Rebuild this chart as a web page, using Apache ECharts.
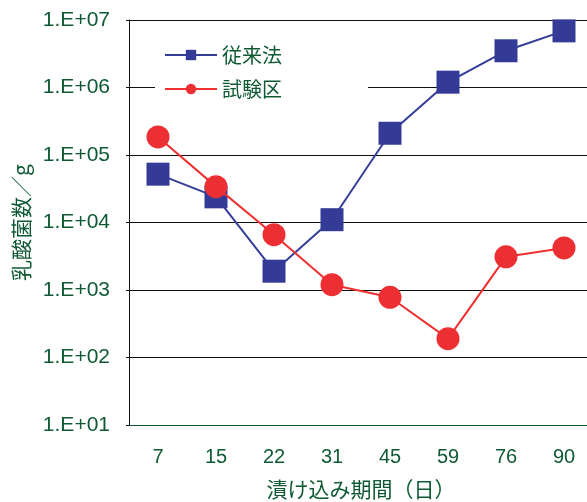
<!DOCTYPE html>
<html>
<head>
<meta charset="utf-8">
<script src="https://cdn.jsdelivr.net/npm/echarts@6/dist/echarts.min.js"></script>
<style>
  html, body { margin: 0; padding: 0; background: #fff; }
  #chart { width: 587px; height: 502px; }
</style>
</head>
<body>
<div id="chart"></div>
<script>
// 漬け込み日数
var days = ['7', '15', '22', '31', '45', '59', '76', '90']
// 従来法
var conventional = [5.2e4, 2.4e4, 1.9e3, 1.1e4, 2.1e5, 1.2e6, 3.5e6, 6.9e6]
// 試験区
var testPlot = [1.85e5, 3.4e4, 6.6e3, 1.2e3, 7.8e2, 1.9e2, 3.1e3, 4.2e3]

var green = '#0f5a33'
var jpFont = '"Noto Sans CJK JP", sans-serif'
var numFont = '"Liberation Sans", Arial, sans-serif'

var chart = echarts.init(document.getElementById('chart'))
chart.setOption({
  animation: false,
  backgroundColor: '#fff',
  grid: {
    left: 129,
    top: 20,
    width: 464,
    height: 405,
    outerBoundsMode: 'none'
  },
  legend: {
    orient: 'vertical',
    left: 155,
    top: 31,
    backgroundColor: '#fff',
    padding: [14, 86, 14, 9],
    itemWidth: 52,
    itemHeight: 13,
    itemGap: 14,
    data: ['従来法', '試験区'],
    textStyle: {
      color: green,
      fontSize: 20,
      fontFamily: jpFont
    }
  },
  xAxis: {
    type: 'category',
    data: days,
    boundaryGap: true,
    name: '漬け込み期間（日）',
    nameLocation: 'middle',
    nameGap: 54,
    nameTextStyle: {
      color: green,
      fontSize: 21,
      fontFamily: jpFont
    },
    axisLine: { lineStyle: { color: green, width: 1 } },
    axisTick: { inside: true, length: 8, lineStyle: { color: green } },
    axisLabel: {
      color: green,
      fontSize: 20,
      fontFamily: numFont,
      margin: 22
    },
    splitLine: { show: false }
  },
  yAxis: {
    type: 'log',
    logBase: 10,
    min: 10,
    max: 1e7,
    name: '乳酸菌数／g',
    nameLocation: 'middle',
    nameGap: 97,
    nameTextStyle: {
      color: green,
      fontSize: 21,
      fontFamily: jpFont
    },
    axisLine: { show: true, lineStyle: { color: '#111', width: 1 } },
    axisTick: { show: true, length: 3, lineStyle: { color: '#111' } },
    axisLabel: {
      color: green,
      fontSize: 21,
      fontFamily: numFont,
      margin: 19,
      formatter: function (v) {
        var e = Math.round(Math.log10(v))
        return '1.E+' + (e < 10 ? '0' + e : e)
      }
    },
    splitLine: { show: true, lineStyle: { color: '#111', width: 1 } }
  },
  series: [
    {
      name: '従来法',
      type: 'line',
      data: conventional,
      symbol: 'rect',
      symbolSize: 23,
      lineStyle: { color: '#353d9a', width: 2 },
      itemStyle: { color: '#333b96' },
      z: 2
    },
    {
      name: '試験区',
      type: 'line',
      data: testPlot,
      symbol: 'circle',
      symbolSize: 23,
      lineStyle: { color: '#ee3030', width: 2 },
      itemStyle: { color: '#eb2f33' },
      z: 3
    }
  ]
})
</script>
</body>
</html>
